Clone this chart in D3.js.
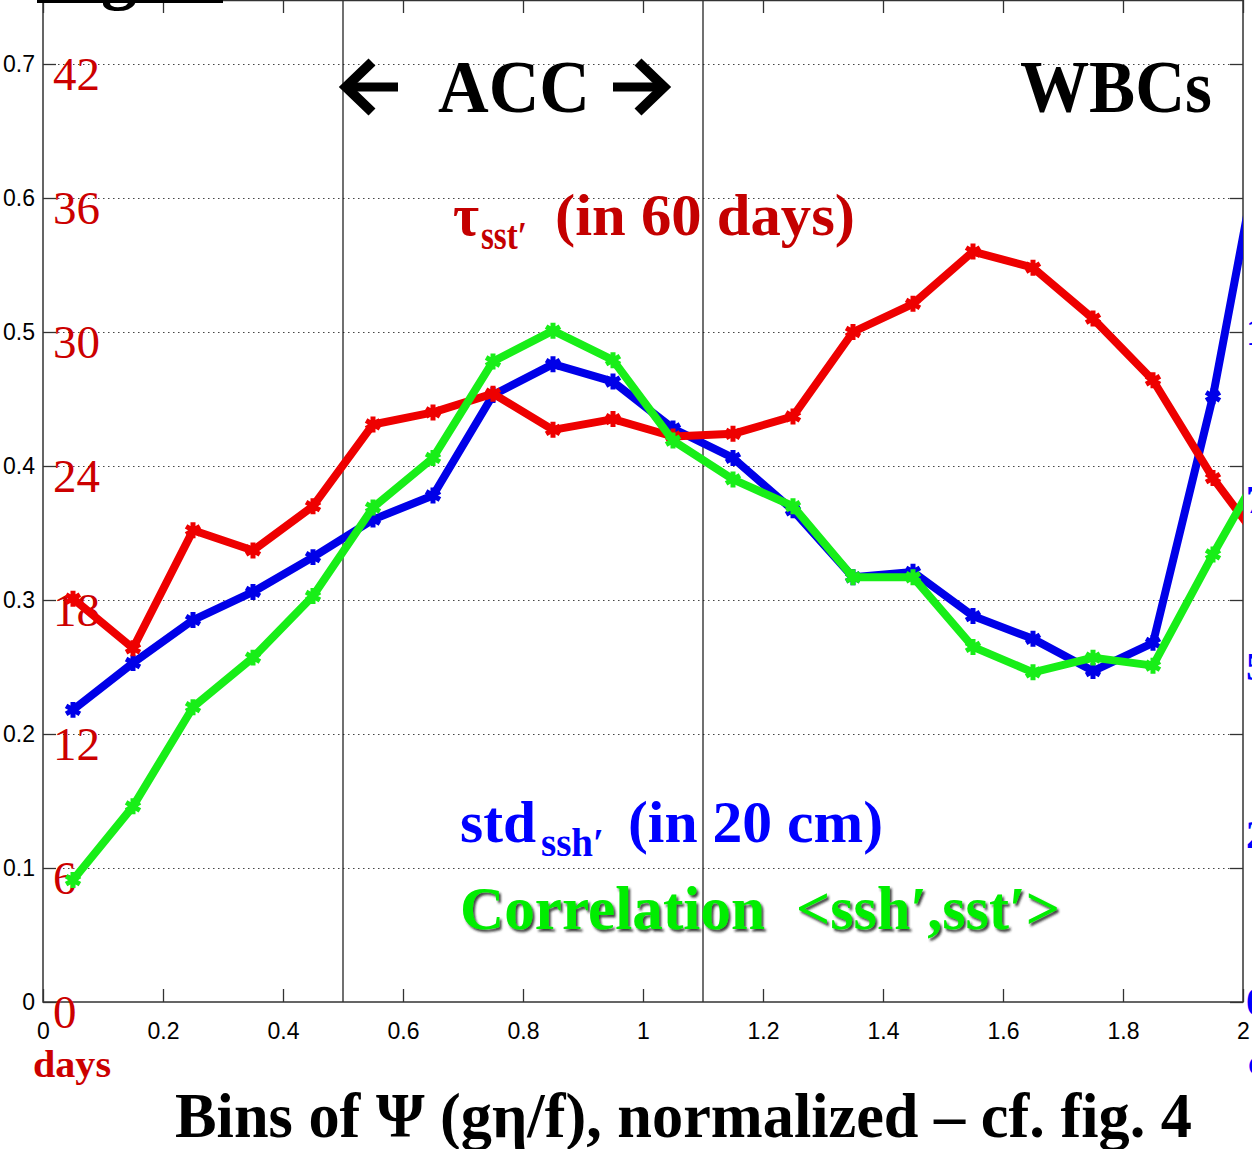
<!DOCTYPE html>
<html>
<head>
<meta charset="utf-8">
<script src="https://cdn.jsdelivr.net/npm/d3@7"></script>
<style>
  html, body { margin: 0; padding: 0; background: #fff; overflow: hidden }
  svg { display: block }
</style>
</head>
<body>
<script>
const WIDTH = 1252
const HEIGHT = 1149

// bin centres of normalized Psi (last one sits just past the right frame)
const bins = [0.05, 0.15, 0.25, 0.35, 0.45, 0.55, 0.65, 0.75, 0.85, 0.95, 1.05, 1.15, 1.25, 1.35, 1.45, 1.55, 1.65, 1.75, 1.85, 1.95, 2.05]
// tau_sst' in units of 60 days
const tauSst = [0.301, 0.264, 0.352, 0.337, 0.370, 0.431, 0.440, 0.454, 0.427, 0.435, 0.422, 0.424, 0.437, 0.500, 0.521, 0.560, 0.548, 0.510, 0.464, 0.391, 0.331]
// std_ssh' in units of 20 cm
const stdSsh = [0.218, 0.253, 0.285, 0.306, 0.332, 0.360, 0.378, 0.453, 0.476, 0.463, 0.428, 0.406, 0.367, 0.317, 0.321, 0.288, 0.271, 0.247, 0.268, 0.452, 0.690]
// correlation <ssh', sst'>
const corrSshSst = [0.091, 0.146, 0.220, 0.257, 0.303, 0.369, 0.406, 0.478, 0.501, 0.479, 0.419, 0.390, 0.370, 0.317, 0.317, 0.265, 0.246, 0.257, 0.251, 0.334, 0.413]

const xTicks = [0, 0.2, 0.4, 0.6, 0.8, 1, 1.2, 1.4, 1.6, 1.8, 2]
const yTicks = [0, 0.1, 0.2, 0.3, 0.4, 0.5, 0.6, 0.7]
const dayLabels = ['0', '6', '12', '18', '24', '30', '36', '42']
const cmTicks = [0, 2.5, 5, 7.5, 10]
const regionBounds = [0.5, 1.1]

const RED = '#ee0000'
const BLUE = '#0000e8'
const GREEN = '#18ee18'
const SERIF = "'Liberation Serif', 'DejaVu Serif', serif"
const SANS = "'Liberation Sans', Arial, sans-serif"

// plot frame
const LEFT = 43, RIGHT = 1243, TOP = 0, BOTTOM = 1002

const x = d3.scaleLinear().domain([0, 2]).range([LEFT, RIGHT])
const y = d3.scaleLinear().domain([0, 0.7]).range([BOTTOM, 64])
// right hand labels: 10 lines up with 0.5 on the left axis
const yCm = d3.scaleLinear().domain([0, 10]).range([y(0), y(0.5)])

const svg = d3.select('body').append('svg')
    .attr('width', WIDTH)
    .attr('height', HEIGHT)

const defs = svg.append('defs')
defs.append('clipPath').attr('id', 'plotClip')
    .append('rect')
    .attr('x', LEFT).attr('y', TOP)
    .attr('width', RIGHT - LEFT).attr('height', BOTTOM - TOP)
const shadow = defs.append('filter').attr('id', 'shadow')
    .attr('x', '-5%').attr('y', '-20%').attr('width', '115%').attr('height', '150%')
shadow.append('feDropShadow')
    .attr('dx', 2).attr('dy', 2.5).attr('stdDeviation', 1.2)
    .attr('flood-color', '#202020').attr('flood-opacity', 0.85)

// dotted grid
svg.append('g')
    .attr('transform', `translate(${LEFT},0)`)
    .call(d3.axisLeft(y).tickValues(yTicks.slice(1)).tickSize(-(RIGHT - LEFT)).tickFormat(''))
    .call(g => g.select('.domain').remove())
    .selectAll('line')
    .attr('stroke', '#444')
    .attr('stroke-width', 1.2)
    .attr('stroke-dasharray', '1.5 3.5')

// region separators
svg.append('g').selectAll('line')
    .data(regionBounds)
    .join('line')
    .attr('x1', d => x(d)).attr('x2', d => x(d))
    .attr('y1', TOP).attr('y2', BOTTOM)
    .attr('stroke', '#111')
    .attr('stroke-width', 1.2)

// frame
svg.append('rect')
    .attr('x', LEFT).attr('y', TOP + 0.5)
    .attr('width', RIGHT - LEFT).attr('height', BOTTOM - TOP - 0.5)
    .attr('fill', 'none')
    .attr('stroke', '#333')
    .attr('stroke-width', 1.5)

// axes, ticks pointing inward
const axisFont = g => g
    .attr('font-family', SANS)
    .attr('font-size', 23)
    .call(g => g.select('.domain').remove())
    .call(g => g.selectAll('line').attr('stroke', '#333').attr('stroke-width', 1.3))

svg.append('g')
    .attr('transform', `translate(${LEFT},0)`)
    .call(d3.axisLeft(y).tickValues(yTicks).tickSize(-13).tickPadding(8).tickFormat(d3.format('~g')))
    .call(axisFont)
    .selectAll('text').attr('fill', '#000')

svg.append('g')
    .attr('transform', `translate(0,${BOTTOM})`)
    .call(d3.axisBottom(x).tickValues(xTicks).tickSize(-13).tickPadding(21).tickFormat(d3.format('~g')))
    .call(axisFont)
    .selectAll('text').attr('fill', '#000')

svg.append('g')
    .attr('transform', `translate(0,${TOP})`)
    .call(d3.axisTop(x).tickValues(xTicks).tickSize(-13).tickFormat(''))
    .call(axisFont)

svg.append('g')
    .attr('transform', `translate(${RIGHT},0)`)
    .call(d3.axisRight(y).tickValues(yTicks).tickSize(-13).tickFormat(''))
    .call(axisFont)

// red day labels inside the left frame
svg.append('g')
    .attr('transform', `translate(${LEFT},0)`)
    .call(d3.axisRight(y).tickValues(yTicks).tickSize(0).tickPadding(10).tickFormat((d, i) => dayLabels[i]))
    .call(g => g.select('.domain').remove())
    .attr('font-family', SERIF)
    .attr('font-size', 47)
    .selectAll('text')
    .attr('fill', '#cc0000')
    .attr('dy', '0.55em')

// blue cm labels, cut by the page edge as in the slide
svg.append('g')
    .attr('transform', `translate(${RIGHT},0)`)
    .call(d3.axisRight(yCm).tickValues(cmTicks).tickSize(0).tickPadding(3).tickFormat(d3.format('~g')))
    .call(g => g.select('.domain').remove())
    .attr('font-family', SERIF)
    .attr('font-size', 40)
    .attr('font-weight', 'bold')
    .selectAll('text')
    .attr('fill', '#0000ff')

// series
const series = [
    { name: 'std', values: stdSsh, color: BLUE },
    { name: 'tau', values: tauSst, color: RED },
    { name: 'corr', values: corrSshSst, color: GREEN }
]
const line = d3.line()
    .x((d, i) => x(bins[i]))
    .y(d => y(d))
const marker = d3.symbol().type(d3.symbolAsterisk || d3.symbolCross).size(180)

const plot = svg.append('g').attr('clip-path', 'url(#plotClip)')
series.forEach(s => {
    const g = plot.append('g')
    g.append('path')
        .attr('d', line(s.values))
        .attr('fill', 'none')
        .attr('stroke', s.color)
        .attr('stroke-width', 8)
        .attr('stroke-linejoin', 'round')
    g.selectAll('path.marker')
        .data(s.values)
        .join('path')
        .attr('class', 'marker')
        .attr('transform', (d, i) => `translate(${x(bins[i])},${y(d)})`)
        .attr('d', marker)
        .attr('fill', s.color)
        .attr('stroke', s.color)
        .attr('stroke-width', 5)
})

// annotations
function label(parent, str, px, baseline, size, len, color) {
    return parent.append('text')
        .attr('x', px).attr('y', baseline)
        .attr('font-family', SERIF)
        .attr('font-weight', 'bold')
        .attr('font-size', size)
        .attr('textLength', len)
        .attr('lengthAdjust', 'spacingAndGlyphs')
        .attr('fill', color)
        .text(str)
}

// cut off title at the very top
svg.append('rect').attr('x', 37).attr('y', -1).attr('width', 186).attr('height', 4).attr('fill', '#000')
label(svg, 'Fig', 37, -4, 72, 100, '#000')

// ACC arrows
const arrows = svg.append('g').attr('fill', 'none').attr('stroke', '#000')
arrows.append('path').attr('d', 'M349,87H398').attr('stroke-width', 9)
arrows.append('path').attr('d', 'M372,62L346,87L372,112').attr('stroke-width', 10)
arrows.append('path').attr('d', 'M613,87H662').attr('stroke-width', 9)
arrows.append('path').attr('d', 'M638,62L664,87L638,112').attr('stroke-width', 10)
label(svg, 'ACC', 438, 112, 74, 152, '#000')
label(svg, 'WBCs', 1020, 112, 74, 192, '#000')

// tau_sst'
const TAU = '#c40000'
label(svg, 'τ', 453, 235, 60, 26, TAU)
label(svg, 'sst′', 481, 249, 40, 46, TAU)
label(svg, '(in 60 days)', 555, 235, 60, 300, TAU)

// std_ssh'
label(svg, 'std', 460, 842, 60, 76, '#0000ff')
label(svg, 'ssh′', 541, 856, 40, 63, '#0000ff')
label(svg, '(in 20 cm)', 628, 842, 60, 255, '#0000ff')

// correlation
const corrLabel = svg.append('g').attr('filter', 'url(#shadow)')
label(corrLabel, 'Correlation', 460, 929, 62, 305, '#00ee00')
label(corrLabel, '<ssh′,sst′>', 796, 929, 62, 264, '#00ee00')

// units and x label
label(svg, 'days', 33, 1077, 37, 78, '#cc0000')
label(svg, 'cm', 1248, 1075, 37, 50, '#0000ff')
label(svg, 'Bins of Ψ (gη/f), normalized – cf. fig. 4', 175, 1137, 63, 1017, '#000')
</script>
</body>
</html>
